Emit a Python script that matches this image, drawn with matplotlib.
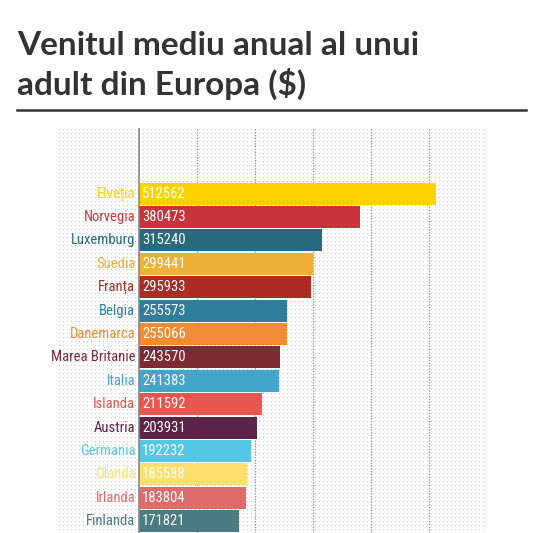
import numpy as np
import matplotlib
matplotlib.use("Agg")
import matplotlib.pyplot as plt
from matplotlib import font_manager

# Data
countries = ['Elveția', 'Norvegia', 'Luxemburg', 'Suedia', 'Franța', 'Belgia',
             'Danemarca', 'Marea Britanie', 'Italia', 'Islanda', 'Austria',
             'Germania', 'Olanda', 'Irlanda', 'Finlanda']
income = [512562, 380473, 315240, 299441, 295933, 255573, 255066, 243570,
          241383, 211592, 203931, 192232, 185588, 183804, 171821]
colors = ['#FFD200', '#C9343A', '#276A7A', '#EFB038', '#AC2B25', '#2F7F9C',
          '#F28B35', '#7D2A33', '#42A6CA', '#E65750', '#5B2448', '#55C8E8',
          '#FFE06E', '#DE6C6C', '#4A7A82']
grid_vals = [100000, 200000, 300000, 400000, 500000]
title_lines = ['Venitul mediu anual al unui', 'adult din Europa ($)']


def pick_font(names):
    for n in names:
        try:
            font_manager.findfont(n, fallback_to_default=False)
            return n
        except Exception:
            pass
    return 'DejaVu Sans'


narrow = pick_font(['Liberation Sans Narrow', 'Roboto Condensed', 'Open Sans Condensed', 'Roboto'])
title_font = pick_font(['Lato', 'Open Sans', 'DejaVu Sans'])

W, H = 545, 533
fig = plt.figure(figsize=(W / 100, H / 100), dpi=100)

# axes area in pixels (from top-left)
ax_l, ax_r, ax_t, ax_b = 58, 487, 128, 533
ax = fig.add_axes([ax_l / W, 1 - ax_b / H, (ax_r - ax_l) / W, (ax_b - ax_t) / H])
ax.patch.set_visible(False)

# dotted background pattern
pat = np.ones((ax_b - ax_t, ax_r - ax_l, 3))
pat[1::4, 1::4] = 0.8
fig.figimage(pat, xo=ax_l, yo=H - ax_b, zorder=-5, origin='upper')

y = np.arange(len(countries))
ax.barh(y, income, height=0.94, color=colors, zorder=3)

for v in grid_vals:
    ax.axvline(v, color='#999999', lw=1, ls=(0, (1, 1)), zorder=1)
ax.axvline(0, color='#888888', lw=1.2, zorder=4)

for i, (name, val, c) in enumerate(zip(countries, income, colors)):
    ax.annotate(name, xy=(0, i), xytext=(-4, 0), textcoords='offset pixels',
                ha='right', va='center', color=c, fontsize=10.5, family=narrow)
    ax.annotate(str(val), xy=(0, i), xytext=(3, 0), textcoords='offset pixels',
                ha='left', va='center', color='white', fontsize=10.5, family=narrow,
                zorder=5)

ax.set_xlim(-140000, 600000)
ax.set_ylim(14.5, -2.8)
ax.axis('off')

# title
fig.text(17 / W, 1 - 55 / H, title_lines[0], fontsize=24, fontweight='bold',
         color='#333333', family=title_font, va='baseline', ha='left')
fig.text(17 / W, 1 - 95 / H, title_lines[1], fontsize=24, fontweight='bold',
         color='#333333', family=title_font, va='baseline', ha='left')
fig.add_artist(plt.Line2D([17 / W, 526 / W], [1 - 110 / H, 1 - 110 / H],
                          color='#333333', lw=1.8))

fig.savefig('out.png', dpi=100)
